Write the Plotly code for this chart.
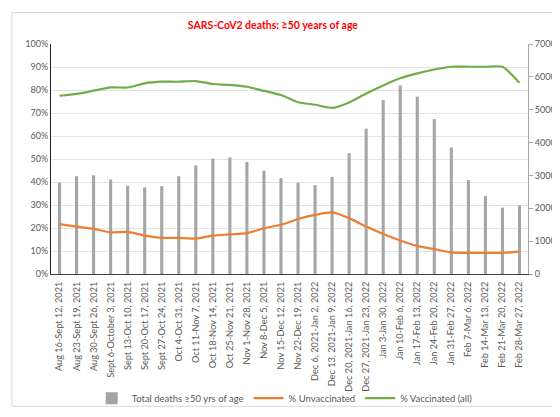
import plotly.graph_objects as go

weeks = [
    "Aug 16-Sept 12, 2021", "Aug 23-Sept 19, 2021", "Aug 30-Sept 26, 2021",
    "Sept 6-October 3, 2021", "Sept 13-Oct 10, 2021", "Sept 20-Oct 17, 2021",
    "Sept 27-Oct 24, 2021", "Oct 4-Oct 31, 2021", "Oct 11-Nov 7, 2021",
    "Oct 18-Nov 14, 2021", "Oct 25-Nov 21, 2021", "Nov 1-Nov 28, 2021",
    "Nov 8-Dec 5, 2021", "Nov 15-Dec 12, 2021", "Nov 22-Dec 19, 2021",
    "Dec 6, 2021-Jan 2, 2022", "Dec 13, 2021-Jan 9, 2022", "Dec 20, 2021-Jan 16, 2022",
    "Dec 27, 2021-Jan 23, 2022", "Jan 3-Jan 30, 2022", "Jan 10-Feb 6, 2022",
    "Jan 17-Feb 13, 2022", "Jan 24-Feb 20, 2022", "Jan 31-Feb 27, 2022",
    "Feb 7-Mar 6, 2022", "Feb 14-Mar 13, 2022", "Feb 21-Mar 20, 2022",
    "Feb 28-Mar 27, 2022",
]
total_deaths = [2780, 2975, 3004, 2878, 2683, 2635, 2674, 2975, 3305, 3510,
                3548, 3412, 3150, 2917, 2780, 2703, 2956, 3675, 4423, 5298,
                5736, 5396, 4715, 3850, 2858, 2372, 2022, 2090]
pct_unvaccinated = [21.7, 20.6, 19.6, 18.1, 18.3, 16.7, 15.7, 15.7, 15.4, 16.7,
                    17.2, 17.8, 19.9, 21.4, 23.9, 25.7, 26.8, 24.3, 20.6, 17.4,
                    14.6, 12.2, 10.8, 9.4, 9.2, 9.2, 9.2, 9.7]
pct_vaccinated = [77.5, 78.3, 79.7, 81.1, 81.1, 82.9, 83.6, 83.6, 83.9, 82.6,
                  82.2, 81.4, 79.6, 77.8, 74.7, 73.6, 72.2, 74.6, 78.5, 82.0,
                  85.1, 87.2, 88.9, 90.1, 90.1, 90.1, 90.1, 83.1]

grey_txt = '#595959'
font = "Lato"

fig = go.Figure()
fig.add_trace(go.Bar(
    x=weeks, y=total_deaths, name="Total deaths ≥50 yrs of age",
    marker=dict(color='#a5a5a5', line=dict(width=0)), width=0.18,
    yaxis='y'
))
fig.add_trace(go.Scatter(
    x=weeks, y=[v / 100 for v in pct_unvaccinated], name="% Unvaccinated",
    mode='lines', line=dict(color='#ed7d31', width=2.2, shape='spline', smoothing=0.6),
    yaxis='y2'
))
fig.add_trace(go.Scatter(
    x=weeks, y=[v / 100 for v in pct_vaccinated], name="% Vaccinated (all)",
    mode='lines', line=dict(color='#70ad47', width=2.2, shape='spline', smoothing=0.6),
    yaxis='y2'
))

fig.update_layout(
    width=560, height=417,
    margin=dict(l=43, r=31, t=36, b=141),
    plot_bgcolor='white', paper_bgcolor='white',
    font=dict(family=font, size=9, color=grey_txt),
    title=dict(text="<b>SARS-CoV2 deaths: ≥50 years of age</b>",
               font=dict(family=font, size=10.5, color='#ff0000'),
               x=0.473, xref='container', xanchor='center',
               y=0.959, yref='container', yanchor='middle'),
    xaxis=dict(tickangle=-90, showgrid=False, showline=True, linecolor='#404040',
               linewidth=1, ticks='', tickfont=dict(size=9.2, color=grey_txt),
               ticklabelstandoff=3, range=[-0.5, 27.5]),
    yaxis=dict(side='right', range=[0, 7000], dtick=1000, showgrid=False,
               showline=True, linecolor='#a6a6a6', ticks='outside', ticklen=4,
               tickcolor='#a6a6a6', tickfont=dict(size=9, color=grey_txt),
               zeroline=False),
    yaxis2=dict(overlaying='y', side='left', range=[0, 1], dtick=0.1,
                tickformat='.0%', showgrid=True, gridcolor='#e3e3e3', gridwidth=1,
                showline=True, linecolor='#262626', linewidth=1,
                tickfont=dict(size=9, color=grey_txt), zeroline=False),
    legend=dict(orientation='h', x=0.49, xanchor='center', y=-0.54,
                yanchor='middle', font=dict(size=9.5, color=grey_txt),
                traceorder='normal', itemwidth=30, bgcolor='rgba(0,0,0,0)'),
    showlegend=True,
)

fig.add_shape(type='rect', xref='paper', yref='paper',
              x0=-0.082, x1=1.058, y0=-0.575, y1=1.1375,
              line=dict(color='#d9d9d9', width=1), layer='below')

fig.write_html("out.html")
